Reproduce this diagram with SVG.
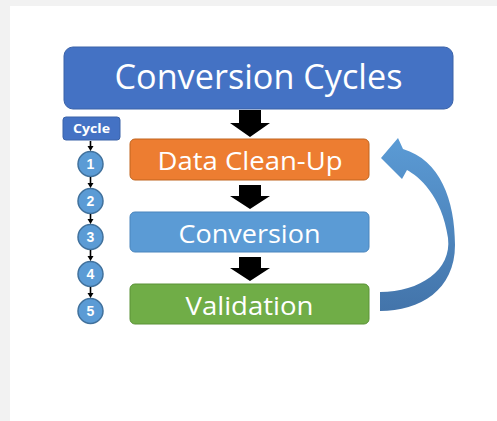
<svg xmlns="http://www.w3.org/2000/svg" width="497" height="421" viewBox="0 0 497 421">
<defs>
<linearGradient id="curveGrad" x1="0" y1="0" x2="0" y2="1">
<stop offset="0" stop-color="#5b9bd5"/>
<stop offset="1" stop-color="#4374aa"/>
</linearGradient>
</defs>
<style>
.lbl{font-family:"Open Sans","Liberation Sans",sans-serif;fill:#fff;text-anchor:middle}
.cyc{font-family:"Open Sans","Liberation Sans",sans-serif;font-weight:bold;font-size:12px;fill:#fff;text-anchor:middle}
.num{font-family:"Liberation Sans",sans-serif;font-weight:bold;font-size:14px;fill:#fff;text-anchor:middle}
.circ{fill:#5b9bd5;stroke:#41719c;stroke-width:1.5}
.blk{fill:#000}
.tiny{fill:#000}
</style>
<rect x="0" y="0" width="497" height="421" fill="#f2f2f2"/>
<rect x="10" y="6" width="487" height="415" fill="#ffffff"/>

<g id="title">
<rect x="64" y="47" width="389" height="62" rx="9" fill="#4472c4" stroke="#3a62a8" stroke-width="1"/>
<text class="lbl" x="258.5" y="89" font-size="34" textLength="288" lengthAdjust="spacingAndGlyphs">Conversion Cycles</text>
</g>

<g id="cycle-label">
<rect x="63" y="117" width="57" height="23" rx="3" fill="#4472c4" stroke="#3a62a8" stroke-width="1"/>
<text class="cyc" x="91.5" y="133" textLength="37" lengthAdjust="spacingAndGlyphs">Cycle</text>
</g>

<g id="cycle-1"><circle class="circ" cx="90.5" cy="164" r="12.5"/><text class="num" x="90.5" y="169">1</text></g>
<g id="cycle-2"><circle class="circ" cx="90.5" cy="201" r="12.5"/><text class="num" x="90.5" y="206">2</text></g>
<g id="cycle-3"><circle class="circ" cx="90.5" cy="237" r="12.5"/><text class="num" x="90.5" y="242">3</text></g>
<g id="cycle-4"><circle class="circ" cx="90.5" cy="274" r="12.5"/><text class="num" x="90.5" y="279">4</text></g>
<g id="cycle-5"><circle class="circ" cx="90.5" cy="311" r="12.5"/><text class="num" x="90.5" y="316">5</text></g>

<g id="data-cleanup">
<rect x="130" y="139" width="239" height="41" rx="5" fill="#ed7d31" stroke="#c0651f" stroke-width="1"/>
<text class="lbl" x="250" y="170" font-size="25" textLength="185" lengthAdjust="spacingAndGlyphs">Data Clean-Up</text>
</g>

<g id="conversion">
<rect x="130" y="212" width="239" height="40" rx="5" fill="#5b9bd5" stroke="#4a85bd" stroke-width="1"/>
<text class="lbl" x="249.5" y="243" font-size="25" textLength="142" lengthAdjust="spacingAndGlyphs">Conversion</text>
</g>

<g id="validation">
<rect x="130" y="284" width="239" height="40" rx="5" fill="#70ad47" stroke="#5a9237" stroke-width="1"/>
<text class="lbl" x="249.5" y="315" font-size="25" textLength="128" lengthAdjust="spacingAndGlyphs">Validation</text>
</g>

<g id="connectors">
<path class="blk" d="M239,110 L261,110 L261,123 L270,123 L250,137 L230,123 L239,123 Z"/>
<path class="blk" d="M239,185 L261,185 L261,196 L270,196 L250,209 L230,196 L239,196 Z"/>
<path class="blk" d="M239,257 L261,257 L261,268 L270,268 L250,281 L230,268 L239,268 Z"/>
<path class="tiny" d="M89.7,141 L91.3,141 L91.3,146 L93.5,146 L90.5,151 L87.5,146 L89.7,146 Z"/>
<path class="tiny" d="M89.7,177 L91.3,177 L91.3,183 L93.5,183 L90.5,188 L87.5,183 L89.7,183 Z"/>
<path class="tiny" d="M89.7,214 L91.3,214 L91.3,219 L93.5,219 L90.5,224 L87.5,219 L89.7,219 Z"/>
<path class="tiny" d="M89.7,250 L91.3,250 L91.3,256 L93.5,256 L90.5,261 L87.5,256 L89.7,256 Z"/>
<path class="tiny" d="M89.7,287 L91.3,287 L91.3,293 L93.5,293 L90.5,298 L87.5,293 L89.7,293 Z"/>
<path d="M380,311 C420,311 455,290 455,245 C455,200 440,160 403,149 L398,138 L381,158 L402,179 L407,170 C418,176 442,195 448,238 C452,270 420,292 380,292 Z" fill="url(#curveGrad)"/>
</g>
</svg>
